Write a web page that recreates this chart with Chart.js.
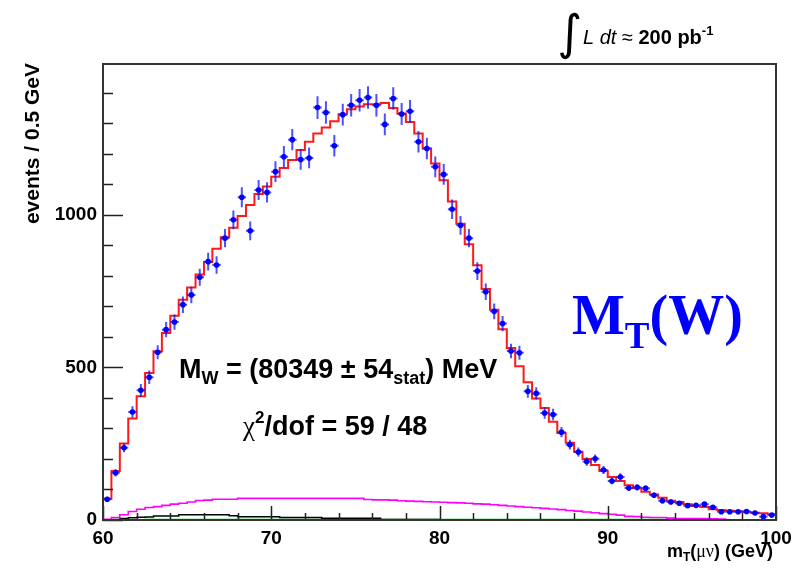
<!DOCTYPE html>
<html><head><meta charset="utf-8">
<script src="https://cdn.jsdelivr.net/npm/chart.js@4.4.1/dist/chart.umd.min.js"></script>
<style>html,body{margin:0;padding:0;background:#fff;}canvas{display:block;}</style>
</head><body>
<canvas id="c" width="809" height="571"></canvas>
<script>
// ---- data ----
const binLowEdges = [60,60.5,61,61.5,62,62.5,63,63.5,64,64.5,65,65.5,66,66.5,67,67.5,68,68.5,69,69.5,
70,70.5,71,71.5,72,72.5,73,73.5,74,74.5,75,75.5,76,76.5,77,77.5,78,78.5,79,79.5,
80,80.5,81,81.5,82,82.5,83,83.5,84,84.5,85,85.5,86,86.5,87,87.5,88,88.5,89,89.5,
90,90.5,91,91.5,92,92.5,93,93.5,94,94.5,95,95.5,96,96.5,97,97.5,98,98.5,99,99.5];
const xUpperEdge = 100;

const dataCounts = [68,155,237,354,425,468,550,624,649,706,
738,796,847,836,924,984,1058,948,1082,1074,
1142,1191,1247,1182,1187,1352,1336,1227,1329,1360,
1376,1385,1360,1297,1382,1331,1340,1240,1218,1158,
1133,1019,966,924,816,748,684,644,554,548,
422,415,351,346,288,247,223,192,201,164,
128,141,105,107,104,81,63,59,55,47,
48,52,42,27,27,27,28,23,11,16];

const dataErrors = [8,12,15,19,21,22,23,25,25,27,
27,28,29,29,30,31,33,31,33,33,
34,35,35,34,34,37,37,35,36,37,
37,37,37,36,37,36,37,35,35,34,
34,32,31,30,29,27,26,25,24,23,
21,20,19,19,17,16,15,14,14,13,
11,12,10,10,10,9,8,8,7,7,
7,7,6,5,5,5,5,5,3,4];

const fitValues = [70,161,251,333,406,482,553,613,670,722,
762,805,846,889,927,958,997,1033,1069,1093,
1125,1154,1180,1213,1240,1267,1287,1307,1330,1347,
1356,1363,1363,1367,1351,1333,1305,1267,1218,1169,
1114,1044,971,904,835,757,689,625,564,504,
452,398,367,322,285,253,224,200,180,161,
141,128,114,104,93,84,73,63,59,52,
46,43,35,33,30,29,26,24,22,19];

const bkgMagenta = [2,8,17,28,35,41,44,48,52,55,
59,64,65,68,68,68,71,71,71,71,
71,71,71,71,71,71,71,71,71,71,
71,67,66,66,65,63,62,61,60,59,
58,57,56,55,53,52,50,48,46,44,
42,40,38,36,34,31,29,26,24,21,
19,16,12,11,9,8,8,6,5,5,
5,5,4,3,1,1,1,1,1,1];

const bkgBlack = [1,2,5,7,9,10,13,13,13,17,
17,17,17,17,17,14,11,11,11,11,
11,8,8,8,8,8,6,6,6,6,
6,6,6,2,2,2,2,2,2,2,
1,1,1,1,1,1,1,1,1,1,
1,1,1,1,1,1,1,1,1,1,
1,1,1,1,1,1,1,1,1,1,
1,1,1,1,1,1,1,1,1,1];

const bkgGreen = [0,0,0,0,0,2,2,2,2,2,
2,2,2,2,2,2,2,2,2,2,
2,2,2,2,2,2,2,2,2,2,
2,2,2,2,2,2,2,2,2,2,
2,2,2,2,2,2,2,2,2,2,
2,2,2,2,2,2,2,2,2,2,
2,2,2,2,2,2,2,2,2,0,
0,0,0,0,0,0,0,0,0,0];

const xTickLabels = [60,70,80,90,100];
const yTickLabels = [0,500,1000];
const xMinorStep = 2, yMinorStep = 100;

// ---- helpers ----
function stepPoints(vals){
  const pts = binLowEdges.map((e,i)=>({x:e, y:vals[i]}));
  pts.push({x:xUpperEdge, y:vals[vals.length-1]});
  return pts;
}
function binHigh(i){ return i+1 < binLowEdges.length ? binLowEdges[i+1] : xUpperEdge; }
const dataPoints = binLowEdges.map((e,i)=>({x:(e+binHigh(i))/2, y:dataCounts[i]}));

const SANS = '"Liberation Sans", Arial, Helvetica, sans-serif';
const SERIF = '"Liberation Serif", "Times New Roman", serif';

function drawRuns(ctx, runs, x, y, align){
  let total = 0;
  runs.forEach(r=>{ ctx.font = r.font; r.w = ctx.measureText(r.t).width; total += r.w; });
  let cx = align === 'right' ? x - total : x;
  ctx.textAlign = 'left'; ctx.textBaseline = 'alphabetic';
  runs.forEach(r=>{ ctx.font = r.font; ctx.fillStyle = r.color || '#000'; ctx.fillText(r.t, cx, y + (r.dy||0)); cx += r.w; });
}

const errorBarPlugin = {
  id:'errorBars',
  beforeDatasetDraw(chart, args){
    if (args.index !== 0) return;
    const ctx = chart.ctx, xs = chart.scales.x, ys = chart.scales.y, a = chart.chartArea;
    ctx.save();
    ctx.beginPath(); ctx.rect(a.left, a.top, a.right-a.left, a.bottom-a.top); ctx.clip();
    ctx.strokeStyle = 'rgba(20,20,255,0.75)';
    ctx.lineWidth = 2;
    dataPoints.forEach((p,i)=>{
      const px = xs.getPixelForValue(p.x), py = ys.getPixelForValue(p.y);
      const y1 = ys.getPixelForValue(p.y - dataErrors[i]), y2 = ys.getPixelForValue(p.y + dataErrors[i]);
      const x1 = xs.getPixelForValue(binLowEdges[i]), x2 = xs.getPixelForValue(binHigh(i));
      ctx.beginPath();
      ctx.moveTo(px, y1); ctx.lineTo(px, y2);
      ctx.moveTo(x1, py); ctx.lineTo(x2, py);
      ctx.stroke();
    });
    ctx.restore();
  }
};

const framePlugin = {
  id:'frameAndText',
  afterDraw(chart){
    const ctx = chart.ctx, xs = chart.scales.x, ys = chart.scales.y, a = chart.chartArea;
    ctx.save();
    // ticks
    ctx.strokeStyle = '#222'; ctx.lineWidth = 1.5;
    ctx.beginPath();
    for (let v = xs.min; v <= xs.max + 1e-9; v += xMinorStep){
      const px = Math.round(xs.getPixelForValue(v)) + 0.5;
      const major = xTickLabels.includes(Math.round(v));
      ctx.moveTo(px, a.bottom); ctx.lineTo(px, a.bottom - (major ? 14 : 7));
    }
    for (let v = 0; v <= ys.max; v += yMinorStep){
      const py = Math.round(ys.getPixelForValue(v)) + 0.5;
      const major = yTickLabels.includes(v);
      ctx.moveTo(a.left, py); ctx.lineTo(a.left + (major ? 20 : 10), py);
    }
    ctx.stroke();
    // frame
    ctx.strokeStyle = '#333'; ctx.lineWidth = 2;
    ctx.strokeRect(a.left, a.top, a.right - a.left, a.bottom - a.top);

    // y title
    ctx.save();
    ctx.translate(33, 63);
    ctx.rotate(-Math.PI/2);
    ctx.font = 'bold 21px ' + SANS; ctx.fillStyle = '#000';
    ctx.textAlign = 'right'; ctx.textBaseline = 'middle';
    ctx.fillText('events / 0.5 GeV', 0, 0);
    ctx.restore();

    // x title
    drawRuns(ctx, [
      {t:'m', font:'bold 18px '+SANS},
      {t:'T', font:'bold 12px '+SANS, dy:4},
      {t:'(', font:'bold 18px '+SANS},
      {t:'\u03BC\u03BD', font:'18px '+SERIF},
      {t:')', font:'bold 18px '+SANS},
      {t:' (GeV)', font:'bold 18px '+SANS}
    ], 773, 557, 'right');

    // luminosity label
    ctx.font = '48px "DejaVu Sans", sans-serif'; ctx.fillStyle = '#000';
    ctx.textAlign = 'center'; ctx.textBaseline = 'alphabetic';
    ctx.fillText('\u222B', 570, 49);
    drawRuns(ctx, [
      {t:'L dt', font:'italic 20px '+SANS},
      {t:' \u2248 ', font:'20px '+SANS},
      {t:'200 pb', font:'bold 20px '+SANS},
      {t:'-1', font:'bold 13px '+SANS, dy:-9}
    ], 583, 44, 'left');

    // fit result text
    drawRuns(ctx, [
      {t:'M', font:'bold 27px '+SANS},
      {t:'W', font:'bold 18px '+SANS, dy:6},
      {t:' = (80349 \u00B1 54', font:'bold 27px '+SANS},
      {t:'stat', font:'bold 18px '+SANS, dy:6},
      {t:') MeV', font:'bold 27px '+SANS}
    ], 179, 378, 'left');
    drawRuns(ctx, [
      {t:'\u03C7', font:'27px '+SERIF},
      {t:'2', font:'bold 17px '+SANS, dy:-12},
      {t:'/dof = 59 / 48', font:'bold 27px '+SANS}
    ], 243, 435, 'left');

    // M_T(W)
    drawRuns(ctx, [
      {t:'M', font:'bold 56px '+SERIF, color:'#0000ff'},
      {t:'T', font:'bold 37px '+SERIF, color:'#0000ff', dy:14},
      {t:'(W)', font:'bold 56px '+SERIF, color:'#0000ff'}
    ], 572, 334, 'left');
    ctx.restore();
  }
};

const tickFont = {family: SANS, weight:'bold', size:19};

new Chart(document.getElementById('c'), {
  type:'scatter',
  data:{
    datasets:[
      {label:'data', data:dataPoints, showLine:false, pointRadius:2.8, pointHoverRadius:2.8,
       pointBackgroundColor:'#0000ff', pointBorderWidth:0, order:0},
      {label:'fit', data:stepPoints(fitValues), showLine:true, stepped:true, pointRadius:0,
       borderColor:'#ff1a1a', borderWidth:2, fill:false, order:1},
      {label:'bkg1', data:stepPoints(bkgMagenta), showLine:true, stepped:true, pointRadius:0,
       borderColor:'#ff00ff', borderWidth:1.6, fill:false, order:2},
      {label:'bkg2', data:stepPoints(bkgBlack), showLine:true, stepped:true, pointRadius:0,
       borderColor:'#000000', borderWidth:1.5, fill:false, order:3},
      {label:'bkg3', data:stepPoints(bkgGreen), showLine:true, stepped:true, pointRadius:0,
       borderColor:'#77dd77', borderWidth:1.6, fill:false, order:4}
    ]
  },
  options:{
    responsive:false, animation:false, devicePixelRatio:1,
    layout:{padding:{left:0, top:64, right:33, bottom:0}},
    plugins:{legend:{display:false}, tooltip:{enabled:false}},
    scales:{
      x:{type:'linear', min:60, max:100,
         afterBuildTicks:s=>{ s.ticks = xTickLabels.map(v=>({value:v})); },
         afterFit:s=>{ s.height = 51; },
         grid:{display:false, drawTicks:false}, border:{display:false},
         ticks:{font:tickFont, color:'#000', padding:7, maxRotation:0, autoSkip:false, callback:v=>String(v)}},
      y:{type:'linear', min:0, max:1495,
         afterBuildTicks:s=>{ s.ticks = yTickLabels.map(v=>({value:v})); },
         afterFit:s=>{ s.width = 103; },
         grid:{display:false, drawTicks:false}, border:{display:false},
         ticks:{font:tickFont, color:'#000', padding:6, autoSkip:false, callback:v=>String(v)}}
    }
  },
  plugins:[errorBarPlugin, framePlugin]
});
</script>
</body></html>
